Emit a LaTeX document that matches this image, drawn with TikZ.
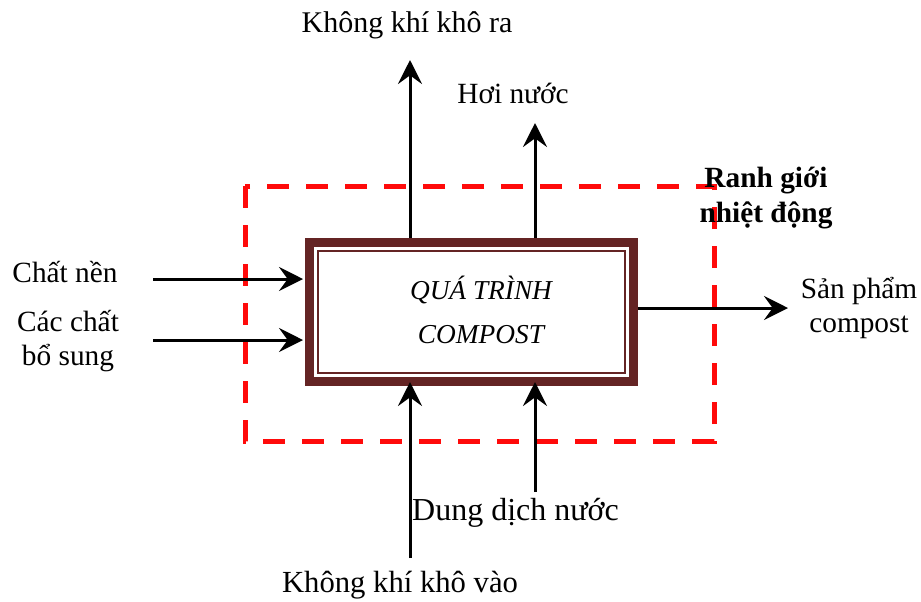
\documentclass[tikz,border=0pt]{standalone}
\usepackage{fontspec}
\setmainfont{Liberation Serif}
\usetikzlibrary{arrows.meta,calc}
\definecolor{maroon}{RGB}{100,36,36}
\definecolor{bred}{RGB}{255,10,10}
\begin{document}
\begin{tikzpicture}[x=0.75pt,y=-0.75pt,
  txt/.style={font=\fontsize{22}{26}\selectfont,inner sep=0pt,align=center},
  arr/.style={line width=2.25pt,-{Stealth[length=18pt,width=18pt,inset=6.5pt]}},
  frame/.style={draw=maroon,fill=white,line width=6.75pt,minimum width=243pt,minimum height=104.25pt,inner sep=0pt,outer sep=0pt},
  thinframe/.style={draw=maroon,line width=1.6pt},
  boundary/.style={draw=bred,line width=3.75pt,dash pattern=on 16.5pt off 12.75pt}]
\useasboundingbox (0,0) rectangle (921,601);
% boundary
\draw[boundary] (245,186) rectangle (714,441);
% free ends
\coordinate (upA) at (410,60);
\coordinate (upB) at (535,123);
\coordinate (rightEnd) at (788,308);
\coordinate (leftA0) at (153,279);
\coordinate (leftA1) at (303,279);
\coordinate (leftB0) at (153,340);
\coordinate (leftB1) at (303,340);
\coordinate (botA0) at (410,558);
\coordinate (botA1) at (410,382);
\coordinate (botB0) at (535,492);
\coordinate (botB1) at (535,382);
% process box (node)
\node[frame] (box) at (471.5,312) {};
% outgoing arrows (beneath box border)
\draw[arr] (box.north -| upA) -- (upA);
\draw[arr] (box.north -| upB) -- (upB);
\draw[arr] (box.east |- rightEnd) -- (rightEnd);
% redraw box on top
\node[frame] (box2) at (box) {};
\draw[thinframe] ($(box.north west)+(8.5,8.5)$) rectangle ($(box.south east)+(-8.5,-8.5)$);
\node[txt,font=\fontsize{20.5}{25}\selectfont\itshape] (q1) at (481,290) {QUÁ TRÌNH};
\node[txt,font=\fontsize{20.5}{25}\selectfont\itshape] (q2) at (481,335) {COMPOST};
% incoming arrows
\draw[arr] (leftA0) -- (leftA1);
\draw[arr] (leftB0) -- (leftB1);
\draw[arr] (botA0) -- (botA1);
\draw[arr] (botB0) -- (botB1);
% labels
\node[txt,font=\fontsize{22.5}{26}\selectfont] (kkra) at (407,25) {Không khí khô ra};
\node[txt] (hoi) at (513,93) {Hơi nước};
\node[txt,font=\fontsize{22}{26}\selectfont\bfseries] (ranh) at (766,198) {Ranh giới\\nhiệt động};
\node[txt] (nen) at (65,272) {Chất nền};
\node[txt] (bs) at (68,341) {Các chất\\bổ sung};
\node[txt] (sp) at (859,308) {Sản phẩm\\compost};
\node[txt,font=\fontsize{24}{28}\selectfont] (dd) at (515.5,513) {Dung dịch nước};
\node[txt,font=\fontsize{23}{27}\selectfont] (kkvao) at (400,585) {Không khí khô vào};
\end{tikzpicture}
\end{document}
